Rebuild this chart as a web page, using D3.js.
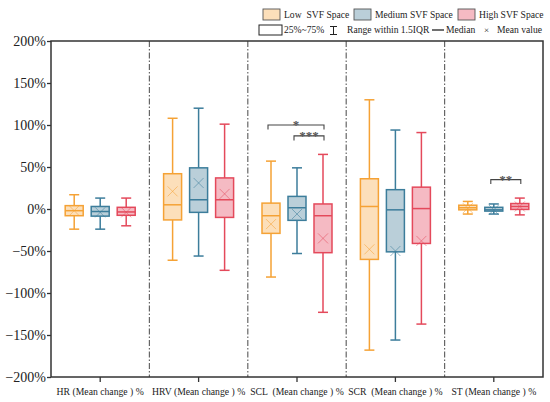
<!DOCTYPE html>
<html>
<head>
<meta charset="utf-8">
<script src="https://cdn.jsdelivr.net/npm/d3@7"></script>
<style>
  body { margin: 0; background: #fff; }
  svg text { font-family: 'Liberation Serif', 'Times New Roman', Times, serif !important; }
</style>
</head>
<body>
<div id="chart"></div>
<script>
// groups on the x axis
var groups = ["HR (Mean change ) %", "HRV (Mean change ) %", "SCL  (Mean change ) %", "SCR  (Mean change ) %", "ST (Mean change ) %"];
var series = ["Low  SVF Space", "Medium SVF Space", "High SVF Space"];
var yTicks = [-200, -150, -100, -50, 0, 50, 100, 150, 200];

// each row: [whisker low, q1, median, q3, whisker high, mean]
var lowStats = [
  [-24, -8, -2, 4, 17, -2],
  [-61, -13, 5, 42, 108, 21],
  [-81, -29, -8, 7, 57, -18],
  [-168, -60, 3, 36, 130, -48],
  [-6, -1, 1.5, 4.5, 9, 1]
];
var mediumStats = [
  [-24, -8.5, -3, 3, 13, -4],
  [-56, -4, 11, 49, 120, 31],
  [-53, -13.5, 1.5, 15, 49, -6],
  [-156, -51, -1, 23, 94, -50],
  [-6, -2.5, -1, 2, 6, -1]
];
var highStats = [
  [-20, -7.5, -3.5, 2, 13, -4],
  [-73, -10, 11, 37, 101, 18],
  [-123, -52, -8, 6, 65, -35],
  [-137, -41, 0.5, 26, 91, -38],
  [-7, -0.5, 3, 6.5, 13, 3]
];

// significance brackets: group index, series from/to, bracket value, label
var sigGroup = [2, 2, 4];
var sigFrom = [0, 1, 1];
var sigTo = [2, 2, 2];
var sigValue = [100, 87, 35];
var sigLabel = ["*", "***", "**"];

var strokeColors = ["#F5A235", "#3C7D9B", "#E4495B"];
var fillColors = ["#FCDFBA", "#BACFD9", "#F5BAC3"];

function drawChart(){
  var W = 550, H = 402;
  var left = 51, right = 543, top = 41, bottom = 377;

  var svg = d3.select("#chart").append("svg")
    .attr("width", W)
    .attr("height", H);

  var x = d3.scaleBand().domain(groups).range([left, right]).padding(0);
  var inner = d3.scaleBand().domain(series).range([-39, 39]).padding(0);
  var y = d3.scaleLinear().domain([-200, 200]).range([bottom, top]);

  var boxW = 18, capW = 10, mk = 5;

  // group separators (dash-dot)
  svg.selectAll(".sep")
    .data(groups.slice(1))
    .enter().append("line")
      .attr("x1", function(d){ return x(d); })
      .attr("x2", function(d){ return x(d); })
      .attr("y1", top)
      .attr("y2", bottom)
      .attr("stroke", "#666")
      .attr("stroke-width", 1.2)
      .attr("stroke-dasharray", "6,2,1.5,2");

  var all = [lowStats, mediumStats, highStats];

  all.forEach(function(stats, si){
    var g = svg.append("g").attr("class", "series");
    var col = strokeColors[si];
    var cx = function(i){ return x(groups[i]) + x.bandwidth() / 2 + inner(series[si]) + inner.bandwidth() / 2; };

    var item = g.selectAll(".box")
      .data(stats)
      .enter().append("g")
        .attr("class", "box");

    // whiskers
    item.append("line")
      .attr("x1", function(d, i){ return cx(i); })
      .attr("x2", function(d, i){ return cx(i); })
      .attr("y1", function(d){ return y(d[0]); })
      .attr("y2", function(d){ return y(d[4]); })
      .attr("stroke", col).attr("stroke-width", 1.5);

    [0, 4].forEach(function(k){
      item.append("line")
        .attr("x1", function(d, i){ return cx(i) - capW / 2; })
        .attr("x2", function(d, i){ return cx(i) + capW / 2; })
        .attr("y1", function(d){ return y(d[k]); })
        .attr("y2", function(d){ return y(d[k]); })
        .attr("stroke", col).attr("stroke-width", 1.5);
    });

    item.append("rect")
      .attr("x", function(d, i){ return cx(i) - boxW / 2; })
      .attr("y", function(d){ return y(d[3]); })
      .attr("width", boxW)
      .attr("height", function(d){ return y(d[1]) - y(d[3]); })
      .attr("fill", fillColors[si])
      .attr("stroke", col).attr("stroke-width", 1.5);

    // median
    item.append("line")
      .attr("x1", function(d, i){ return cx(i) - boxW / 2; })
      .attr("x2", function(d, i){ return cx(i) + boxW / 2; })
      .attr("y1", function(d){ return y(d[2]); })
      .attr("y2", function(d){ return y(d[2]); })
      .attr("stroke", col).attr("stroke-width", 1.5);

    // mean marker
    item.append("path")
      .attr("d", function(d, i){
        var px = cx(i), py = y(d[5]);
        return "M" + (px - mk) + "," + (py - mk) + "L" + (px + mk) + "," + (py + mk) +
               "M" + (px - mk) + "," + (py + mk) + "L" + (px + mk) + "," + (py - mk);
      })
      .attr("stroke", col).attr("stroke-width", 1)
      .attr("opacity", 0.55)
      .attr("fill", "none");
  });

  // significance brackets
  var sig = svg.selectAll(".sig")
    .data(sigLabel)
    .enter().append("g").attr("class", "sig");

  function sx(gi, si){
    return x(groups[gi]) + x.bandwidth() / 2 + inner(series[si]) + inner.bandwidth() / 2;
  }

  sig.append("path")
    .attr("d", function(d, i){
      var x1 = sx(sigGroup[i], sigFrom[i]) - 3, x2 = sx(sigGroup[i], sigTo[i]) + 1, yy = y(sigValue[i]);
      return "M" + x1 + "," + (yy + 4.5) + "V" + yy + "H" + x2 + "V" + (yy + 4.5);
    })
    .attr("fill", "none")
    .attr("stroke", "#444")
    .attr("stroke-width", 1.1);

  sig.append("text")
    .attr("x", function(d, i){ return (sx(sigGroup[i], sigFrom[i]) + sx(sigGroup[i], sigTo[i])) / 2 - 1; })
    .attr("y", function(d, i){ return y(sigValue[i]) + 4; })
    .attr("text-anchor", "middle")
    .attr("font-size", 13)
    .attr("font-weight", "bold")
    .attr("fill", "#555")
    .text(function(d){ return d; });

  // axes
  var yAxis = d3.axisLeft(y)
    .tickValues(yTicks)
    .tickSize(4)
    .tickFormat(function(d){ return d3.format("d")(d) + "%"; });

  var ya = svg.append("g")
    .attr("transform", "translate(" + left + ",0)")
    .call(yAxis);
  ya.select(".domain").remove();
  ya.selectAll(".tick line").attr("stroke", "#333").attr("stroke-width", 1.3);
  ya.selectAll(".tick text")
    .attr("font-size", 14)
    .attr("fill", "#222")
    .attr("x", -5);

  var xAxis = d3.axisBottom(x).tickSize(5).tickSizeOuter(0);
  var xa = svg.append("g")
    .attr("transform", "translate(0," + bottom + ")")
    .call(xAxis);
  xa.select(".domain").remove();
  xa.selectAll(".tick line").attr("stroke", "#333").attr("stroke-width", 1.3);
  xa.selectAll(".tick text")
    .attr("font-size", 9.7)
    .attr("fill", "#222")
    .attr("y", 11)
    .style("white-space", "pre");

  // frame
  svg.append("rect")
    .attr("x", left).attr("y", top)
    .attr("width", right - left).attr("height", bottom - top)
    .attr("fill", "none")
    .attr("stroke", "#333")
    .attr("stroke-width", 1.5);

  // legend
  var lg = svg.append("g").attr("class", "legend")
    .attr("font-size", 9.6).attr("fill", "#222");

  var legX = [263, 354, 458];
  series.forEach(function(s, i){
    lg.append("rect")
      .attr("x", legX[i]).attr("y", 9)
      .attr("width", 17).attr("height", 11)
      .attr("fill", fillColors[i])
      .attr("stroke", "#555").attr("stroke-width", 0.9);
    lg.append("text")
      .attr("x", legX[i] + 21).attr("y", 18)
      .style("white-space", "pre")
      .text(s);
  });

  lg.append("rect")
    .attr("x", 259).attr("y", 25)
    .attr("width", 23).attr("height", 10)
    .attr("fill", "#fff")
    .attr("stroke", "#222").attr("stroke-width", 1);
  lg.append("text").attr("x", 284).attr("y", 33).text("25%~75%");

  lg.append("path")
    .attr("d", "M330,26.5H337M333.5,26.5V34.5M330,34.5H337")
    .attr("stroke", "#222").attr("stroke-width", 1).attr("fill", "none");
  lg.append("text").attr("x", 347).attr("y", 33).text("Range within 1.5IQR");

  lg.append("line")
    .attr("x1", 432).attr("x2", 444).attr("y1", 30).attr("y2", 30)
    .attr("stroke", "#222").attr("stroke-width", 1.3);
  lg.append("text").attr("x", 446).attr("y", 33).text("Median");

  lg.append("text").attr("x", 484).attr("y", 32.5).attr("font-size", 9).text("×");
  lg.append("text").attr("x", 497).attr("y", 33).text("Mean value");
}

drawChart();
</script>
</body>
</html>
